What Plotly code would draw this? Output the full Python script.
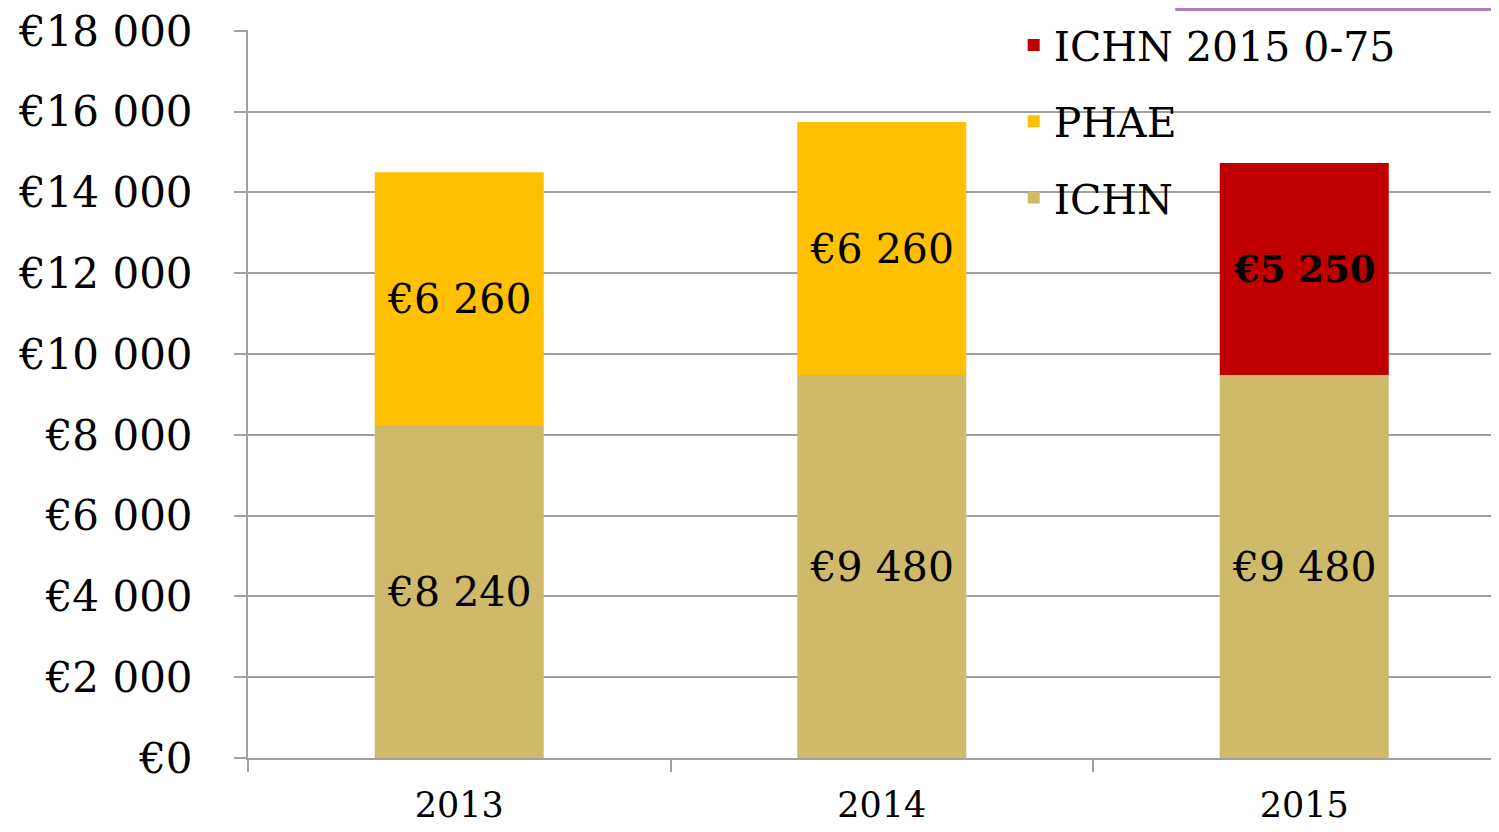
import pandas as pd
import plotly.express as px

def generate_aid_stacked_bar_plot(df: pd.DataFrame):
    """
    Generates a Plotly figure showing the aid amount per year, stacked per scheme.
    """
    df = df.fillna(0)
    fig = px.bar(
        df,
        x='year',
        y='amount',
        color='scheme',
        color_discrete_map={
            'ICHN': '#CFBA69',
            'PHAE': '#FFC000',
            'ICHN 2015 0-75': '#C00000',
        },
        category_orders={
            'year': ['2013', '2014', '2015'],
            'scheme': ['ICHN', 'PHAE', 'ICHN 2015 0-75'],
        },
    )
    fig.update_traces(
        texttemplate='€%{y:,.0f}',
        textposition='inside',
        insidetextanchor='middle',
        textangle=0,
        constraintext='none',
        textfont=dict(size=41, color='black'),
        marker_line_width=0,
    )
    fig.update_traces(selector=dict(name='ICHN 2015 0-75'), textfont_weight='bold', textfont_size=37)
    ranks = {'ICHN 2015 0-75': 1, 'PHAE': 2, 'ICHN': 3}  # top-down order of the legend
    fig.for_each_trace(lambda t: t.update(legendgroup=t.name, legendrank=ranks[t.name]))
    fig = _update_plot_style(fig)
    return fig

def _update_plot_style(fig):
    fig.update_layout(
        template='plotly_white',
        font=dict(family='DejaVu Serif', size=42, color='black'),
        separators=', ',
        plot_bgcolor='white',
        paper_bgcolor='white',
        bargap=0.6,
        margin=dict(l=240, r=0, t=22, b=66, autoexpand=False),
        legend=dict(
            title_text='',
            x=0.616,
            y=1.025,
            xanchor='left',
            yanchor='top',
            traceorder='grouped',
            tracegroupgap=20,
            bgcolor='rgba(0,0,0,0)',
            font=dict(size=41),
        ),
        showlegend=True,
    )
    fig.update_xaxes(
        title_text='',
        range=[-0.5, 2.442],
        automargin=False,
        showgrid=False,
        showline=True,
        linewidth=2,
        linecolor='#A0A0A0',
        ticks='outside',
        tickson='boundaries',
        tickwidth=2,
        tickcolor='#A0A0A0',
        ticklen=12,
        ticklabelstandoff=15,
        tickfont=dict(size=35),
    )
    fig.update_yaxes(
        title_text='',
        range=[0, 18020],
        dtick=2000,
        automargin=False,
        tickprefix='€',
        tickformat=',.0f',
        ticklabeloverflow='allow',
        showgrid=True,
        gridwidth=2,
        gridcolor='#A0A0A0',
        zeroline=False,
        showline=True,
        linewidth=2,
        linecolor='#A0A0A0',
        ticks='outside',
        tickwidth=2,
        tickcolor='#A0A0A0',
        ticklen=12,
        ticklabelstandoff=33,
    )
    fig.add_shape(
        type='line',
        xref='paper',
        yref='paper',
        x0=0.746,
        x1=1.02,
        y0=1.028,
        y1=1.028,
        line=dict(color='#A97FC6', width=3),
    )
    return fig


df = pd.DataFrame({
    'year': ['2013', '2014', '2015', '2013', '2014', '2015'],
    'scheme': ['ICHN', 'ICHN', 'ICHN', 'PHAE', 'PHAE', 'ICHN 2015 0-75'],
    'amount': [8240, 9480, 9480, 6260, 6260, 5250],
})

fig = generate_aid_stacked_bar_plot(df)
fig.write_html("out.html")
